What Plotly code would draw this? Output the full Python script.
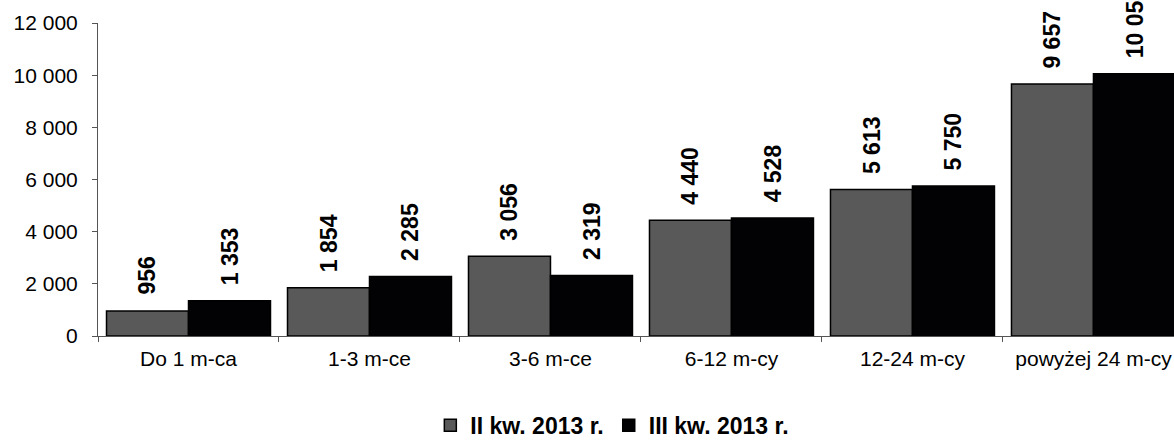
import plotly.graph_objects as go

categories = ["Do 1 m-ca", "1-3 m-ce", "3-6 m-ce", "6-12 m-cy", "12-24 m-cy", "powyżej 24 m-cy"]
series_names = ["II kw. 2013 r.", "III kw. 2013 r."]
q2_values = [956, 1854, 3056, 4440, 5613, 9657]
q3_values = [1353, 2285, 2319, 4528, 5750, 10053]
y_ticks = [0, 2000, 4000, 6000, 8000, 10000, 12000]

FONT = "Liberation Sans, Arial, sans-serif"
COLORS = ["#595959", "#020205"]
BARGAP = 0.094


def fmt(v):
    return f"{v:,}".replace(",", " ")


fig = go.Figure()
for name, vals, color in zip(series_names, [q2_values, q3_values], COLORS):
    fig.add_trace(
        go.Bar(
            x=categories,
            y=vals,
            name=name,
            marker=dict(color=color, line=dict(color="#000000", width=1.5)),
        )
    )

# value labels sit a little above each bar, rotated like the original
half = (1 - BARGAP) / 4
for i in range(len(categories)):
    for vals, dx in ((q2_values, -half), (q3_values, half)):
        fig.add_annotation(
            x=i + dx,
            y=vals[i],
            xref="x",
            yref="y",
            text=f"<b>{fmt(vals[i])}</b>",
            textangle=-90,
            showarrow=False,
            yanchor="bottom",
            xanchor="center",
            yshift=14,
            font=dict(family=FONT, size=23, color="#000000"),
        )

fig.update_layout(
    width=1174,
    height=447,
    barmode="group",
    bargap=BARGAP,
    bargroupgap=0,
    separators=", ",
    paper_bgcolor="#ffffff",
    plot_bgcolor="#ffffff",
    font=dict(family=FONT, size=21, color="#000000"),
    margin=dict(l=98, r=0, t=23, b=105),
    showlegend=True,
    legend=dict(
        orientation="h",
        x=0.478,
        xanchor="center",
        y=-0.285,
        yanchor="middle",
        font=dict(family=FONT, size=23, color="#000000", weight="bold"),
        itemwidth=30,
        tracegroupgap=0,
    ),
)
fig.update_xaxes(
    range=[-0.5, 5.445],
    showline=True,
    linecolor="#555555",
    linewidth=1,
    ticks="outside",
    tickson="boundaries",
    ticklen=5,
    tickcolor="#555555",
    showgrid=False,
    ticklabelstandoff=4,
)
fig.update_yaxes(
    range=[0, 12000],
    tickvals=y_ticks,
    tickformat=",d",
    showline=True,
    linecolor="#555555",
    linewidth=1,
    ticks="outside",
    ticklen=5,
    tickcolor="#555555",
    showgrid=False,
    zeroline=False,
    ticklabelstandoff=10,
)

# drop the browser's default body margin so the figure fills the window exactly
fig.write_html(
    "out.html",
    config={"displayModeBar": False},
    post_script="document.body.style.margin='0';",
)
